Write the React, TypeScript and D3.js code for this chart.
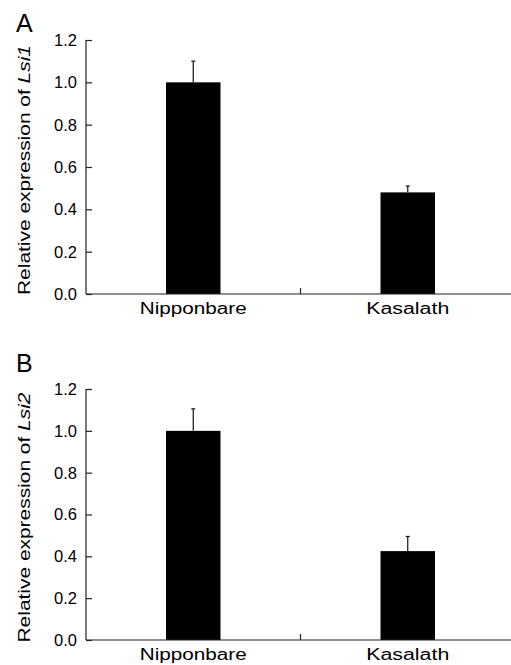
import React, { useEffect, useRef } from 'react';
import * as d3 from 'd3';

// data
const categories = ['Nipponbare', 'Kasalath'];
const lsi1Values = [1.0, 0.48];
const lsi1Errors = [0.1, 0.03];
const lsi2Values = [1.0, 0.425];
const lsi2Errors = [0.105, 0.07];
const yTicks = [0, 0.2, 0.4, 0.6, 0.8, 1.0, 1.2];
const panels = [
    { letter: 'A', gene: 'Lsi1', values: lsi1Values, errors: lsi1Errors, top: 40, bottom: 294, letterY: 32 },
    { letter: 'B', gene: 'Lsi2', values: lsi2Values, errors: lsi2Errors, top: 389, bottom: 640, letterY: 372 },
];

const W = 511;
const H = 665;
const FONT = "'Liberation Sans', Arial, sans-serif";
const labelLengths: Record<string, number> = { Nipponbare: 107, Kasalath: 83 };

const App = () => {
    const ref = useRef<SVGSVGElement>(null);

    useEffect(() => {
        const svg = d3.select(ref.current);
        svg.selectAll('*').remove();

        const xScale = d3.scaleBand<string>()
            .domain(categories)
            .range([86, 515])
            .padding(0);
        const barWidth = xScale.bandwidth() * 0.254;

        panels.forEach((p) => {
            const g = svg.append('g');
            const yScale = d3.scaleLinear().domain([0, 1.2]).range([p.bottom, p.top]);

            // panel letter
            g.append('text')
                .attr('x', 16)
                .attr('y', p.letterY)
                .attr('font-size', 25)
                .attr('font-family', FONT)
                .text(p.letter);

            // y axis title
            const title = g.append('text')
                .attr('transform', `translate(30,${(p.top + p.bottom) / 2 + 3}) rotate(-90)`)
                .attr('text-anchor', 'middle')
                .attr('font-size', 16.5)
                .attr('font-family', FONT)
                .attr('textLength', 250)
                .attr('lengthAdjust', 'spacingAndGlyphs');
            title.append('tspan').text('Relative expression of ');
            title.append('tspan').attr('font-style', 'italic').text(p.gene);

            // bars
            g.selectAll('rect.bar')
                .data(categories)
                .enter()
                .append('rect')
                .attr('class', 'bar')
                .attr('x', (d) => (xScale(d) as number) + xScale.bandwidth() / 2 - barWidth / 2)
                .attr('y', (d, i) => yScale(p.values[i]))
                .attr('width', barWidth)
                .attr('height', (d, i) => p.bottom - yScale(p.values[i]))
                .attr('fill', '#000');

            // error bars (upper only)
            categories.forEach((c, i) => {
                const cx = (xScale(c) as number) + xScale.bandwidth() / 2;
                const yTop = yScale(p.values[i] + p.errors[i]);
                g.append('line')
                    .attr('x1', cx).attr('x2', cx)
                    .attr('y1', yScale(p.values[i])).attr('y2', yTop)
                    .attr('stroke', '#111').attr('stroke-width', 1.2);
                g.append('line')
                    .attr('x1', cx - 2).attr('x2', cx + 2)
                    .attr('y1', yTop).attr('y2', yTop)
                    .attr('stroke', '#111').attr('stroke-width', 1.2);
            });

            // y axis
            const yAxis = d3.axisRight(yScale)
                .tickValues(yTicks)
                .tickSize(6)
                .tickFormat(() => '');
            const yg = g.append('g')
                .attr('transform', 'translate(86,0)')
                .call(yAxis);
            yg.select('.domain').attr('stroke', '#222').attr('stroke-width', 1.2)
                .attr('d', `M0,${p.top}V${p.bottom}`);
            yg.selectAll('.tick line').attr('stroke', '#222').attr('stroke-width', 1.2);

            g.selectAll('text.ytick')
                .data(yTicks)
                .enter()
                .append('text')
                .attr('class', 'ytick')
                .attr('x', 77)
                .attr('y', (d) => yScale(d))
                .attr('dy', '0.36em')
                .attr('text-anchor', 'end')
                .attr('font-size', 16.5)
                .attr('font-family', FONT)
                .text((d) => d3.format('.1f')(d));

            // x axis
            g.append('line')
                .attr('x1', 86).attr('x2', 515)
                .attr('y1', p.bottom).attr('y2', p.bottom)
                .attr('stroke', '#222').attr('stroke-width', 1.2);
            g.append('line')
                .attr('x1', xScale('Kasalath') as number).attr('x2', xScale('Kasalath') as number)
                .attr('y1', p.bottom).attr('y2', p.bottom - 6)
                .attr('stroke', '#222').attr('stroke-width', 1.2);

            g.selectAll('text.xlab')
                .data(categories)
                .enter()
                .append('text')
                .attr('class', 'xlab')
                .attr('x', (d) => (xScale(d) as number) + xScale.bandwidth() / 2)
                .attr('y', p.bottom + 20)
                .attr('text-anchor', 'middle')
                .attr('font-size', 16)
                .attr('font-family', FONT)
                .attr('textLength', (d) => labelLengths[d])
                .attr('lengthAdjust', 'spacingAndGlyphs')
                .text((d) => d);
        });
    }, []);

    return (
        <svg
            ref={ref}
            width={W}
            height={H}
            style={{ position: 'absolute', left: 0, top: 0, background: '#fff' }}
        />
    );
};

export default App;
